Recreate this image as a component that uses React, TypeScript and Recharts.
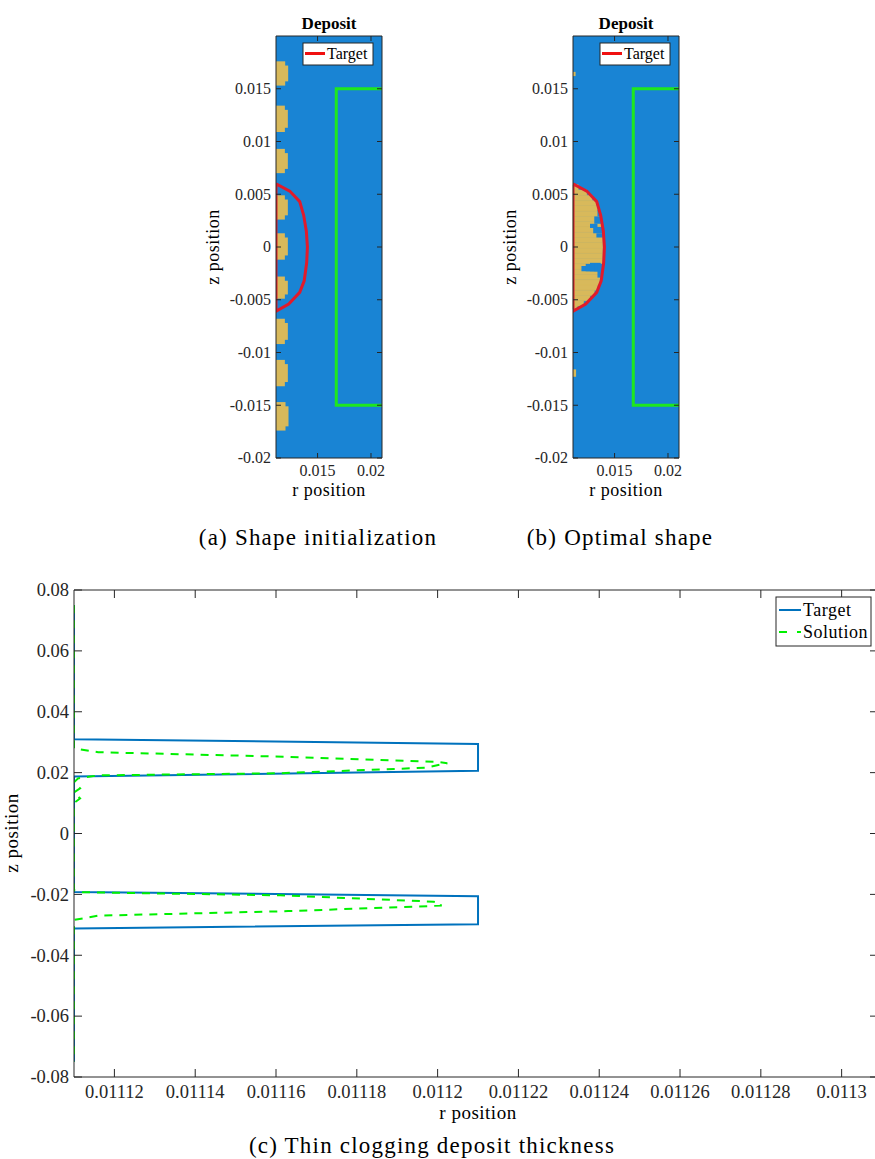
import React from 'react';
import { ComposedChart, Line, XAxis, YAxis, CartesianGrid, ReferenceArea } from 'recharts';

const FONT = '"Liberation Serif", "Times New Roman", serif';
const AXIS = '#262626';
const BLUE_BG = '#1984d4';
const DEPOSIT = '#d8b95b';
const RED = '#e01b2b';
const GREEN_WALL = '#1ee81e';
const TARGET_BLUE = '#0072bd';
const SOL_GREEN = '#00f000';

// ---------- panels (a) and (b) ----------
const panelRDomain: [number, number] = [0.01111, 0.02103];
const panelZDomain: [number, number] = [-0.02, 0.02];
const panelRTicks = [0.015, 0.02];
const panelZTicks = [-0.02, -0.015, -0.01, -0.005, 0, 0.005, 0.01, 0.015];

const shapeTargetR = [0.01111, 0.0124, 0.01333, 0.0137, 0.01395, 0.01405, 0.01398, 0.01375, 0.01333, 0.0123, 0.01111, 0.01111];
const shapeTargetZ = [0.006, 0.0053, 0.0043, 0.003, 0.0015, 0.0, -0.0015, -0.0032, -0.0043, -0.0054, -0.0061, 0.006];

const wallR = [0.02103, 0.01675, 0.01675, 0.02103];
const wallZ = [0.015, 0.015, -0.015, -0.015];

// (a) initial deposit blobs
const initBlobTop = [0.0176, 0.0134, 0.0093, 0.0049, 0.0013, -0.0028, -0.0068, -0.0107, -0.0147];
const initBlobBottom = [0.0153, 0.0109, 0.007, 0.0026, -0.0012, -0.0049, -0.0092, -0.0132, -0.0174];
const initBlobR = [0.01225, 0.01222, 0.01222, 0.01222, 0.01222, 0.01222, 0.01222, 0.01222, 0.01228];

// (b) optimal deposit, horizontal mesh slices
const optSliceZ = [0.0059, 0.0054, 0.0049, 0.0044, 0.0039, 0.0034, 0.0029, 0.0024, 0.0019, 0.0014, 0.0009, 0.0004, -0.0001, -0.0006, -0.0011, -0.0016, -0.0021, -0.0026, -0.0031, -0.0036, -0.0041, -0.0046, -0.0051, -0.0056, -0.0059];
const optSliceR = [0.0116, 0.0124, 0.0129, 0.0133, 0.0134, 0.0136, 0.0137, 0.0138, 0.0138, 0.0139, 0.0139, 0.0139, 0.0139, 0.0139, 0.0139, 0.0138, 0.0138, 0.0137, 0.0136, 0.0134, 0.0131, 0.0127, 0.0121, 0.0115];
// blue gaps inside the optimal deposit
const optHoleR1 = [0.0134, 0.0131, 0.0127, 0.013, 0.0133, 0.0119, 0.0123, 0.0127, 0.0131, 0.0134];
const optHoleR2 = [0.0137, 0.0139, 0.0134, 0.0139, 0.0139, 0.0137, 0.0137, 0.0137, 0.0137, 0.014];
const optHoleTop = [0.0035, 0.0029, 0.0022, 0.0019, 0.0013, -0.0018, -0.0016, -0.0015, -0.0016, -0.0016];
const optHoleBottom = [0.0029, 0.0022, 0.0018, 0.0013, 0.0009, -0.0023, -0.0023, -0.0023, -0.0023, -0.0029];
const optSpeckR2 = [0.01135, 0.0114];
const optSpeckTop = [0.0166, -0.0116];
const optSpeckBottom = [0.0162, -0.0123];

// ---------- panel (c) ----------
const thinRDomain: [number, number] = [0.01111, 0.011309];
const thinZDomain: [number, number] = [-0.08, 0.08];
const thinRTicks = [0.01112, 0.01114, 0.01116, 0.01118, 0.0112, 0.01122, 0.01124, 0.01126, 0.01128, 0.0113];
const thinZTicks = [-0.08, -0.06, -0.04, -0.02, 0, 0.02, 0.04, 0.06, 0.08];

const targetR = [0.01111, 0.01111, 0.01121, 0.01121, 0.01111, 0.01111, 0.01121, 0.01121, 0.01111, 0.01111];
const targetZ = [0.075, 0.031, 0.0294, 0.0206, 0.0187, -0.0192, -0.0206, -0.0298, -0.0312, -0.075];

const solutionR = [0.01111, 0.01111, 0.011116, 0.011163, 0.0112, 0.0112024, 0.011197, 0.011161, 0.011116, 0.011111, 0.01111, 0.0111115, 0.01111, 0.0111115, 0.01111, 0.01111, 0.011112, 0.011161, 0.011199, 0.0112008, 0.0112008, 0.011163, 0.011116, 0.01111, 0.01111];
const solutionZ = [0.075, 0.028, 0.0267, 0.0252, 0.0235, 0.0231, 0.0216, 0.0198, 0.0191, 0.0181, 0.0168, 0.0148, 0.0135, 0.0115, 0.01, -0.0186, -0.0193, -0.0203, -0.0224, -0.023, -0.0237, -0.0255, -0.027, -0.0284, -0.075];

const zip = (r: number[], z: number[]) => r.map((v, i) => ({ r: v, z: z[i] }));

const fmt = (v: number) => String(Number(v.toFixed(6)));

function tickRenderer(side: string, len: number, fs: number, showLabel: boolean, labelOffset: number) {
  return (p: any) => {
    const { x, y, payload } = p;
    const v = payload ? payload.value : 0;
    let ln: any = null;
    let tx: any = null;
    if (side === 'bottom') {
      ln = <line x1={x} y1={y} x2={x} y2={y - len} stroke={AXIS} strokeWidth={1} />;
      if (showLabel)
        tx = (
          <text x={x} y={y + labelOffset} textAnchor="middle" fontSize={fs} fontFamily={FONT} fill={AXIS}>
            {fmt(v)}
          </text>
        );
    } else if (side === 'top') {
      ln = <line x1={x} y1={y} x2={x} y2={y + len} stroke={AXIS} strokeWidth={1} />;
    } else if (side === 'left') {
      ln = <line x1={x} y1={y} x2={x + len} y2={y} stroke={AXIS} strokeWidth={1} />;
      if (showLabel)
        tx = (
          <text x={x - labelOffset} y={y + fs * 0.34} textAnchor="end" fontSize={fs} fontFamily={FONT} fill={AXIS}>
            {fmt(v)}
          </text>
        );
    } else {
      ln = <line x1={x} y1={y} x2={x - len} y2={y} stroke={AXIS} strokeWidth={1} />;
    }
    return (
      <g>
        {ln}
        {tx}
      </g>
    );
  };
}

function TopPanel({ left, mode }: { left: number; mode: 'init' | 'opt' }) {
  const areas: any[] = [];
  if (mode === 'init') {
    initBlobTop.forEach((top, i) => {
      const bot = initBlobBottom[i];
      const rr = initBlobR[i];
      areas.push(
        <ReferenceArea key={'bc' + i} x1={panelRDomain[0]} x2={rr - 0.00028} y1={bot} y2={top} fill={DEPOSIT} fillOpacity={1} stroke="none" ifOverflow="visible" />
      );
      areas.push(
        <ReferenceArea key={'bm' + i} x1={panelRDomain[0]} x2={rr} y1={bot + 0.0004} y2={top - 0.0004} fill={DEPOSIT} fillOpacity={1} stroke="none" ifOverflow="visible" />
      );
    });
  } else {
    optSliceR.forEach((rr, i) => {
      areas.push(
        <ReferenceArea key={'s' + i} x1={panelRDomain[0]} x2={rr} y1={optSliceZ[i + 1]} y2={optSliceZ[i]} fill={DEPOSIT} fillOpacity={1} stroke={DEPOSIT} strokeWidth={0.6} ifOverflow="visible" />
      );
    });
    optHoleR1.forEach((r1, i) => {
      areas.push(
        <ReferenceArea key={'h' + i} x1={r1} x2={optHoleR2[i]} y1={optHoleBottom[i]} y2={optHoleTop[i]} fill={BLUE_BG} fillOpacity={1} stroke="none" ifOverflow="visible" />
      );
    });
    optSpeckR2.forEach((r2, i) => {
      areas.push(
        <ReferenceArea key={'k' + i} x1={panelRDomain[0]} x2={r2} y1={optSpeckBottom[i]} y2={optSpeckTop[i]} fill={DEPOSIT} fillOpacity={1} stroke="none" ifOverflow="visible" />
      );
    });
  }
  return (
    <div style={{ position: 'absolute', left, top: 0 }}>
      <ComposedChart width={200} height={480} margin={{ top: 35, right: 17, bottom: 0, left: 0 }}>
        <CartesianGrid horizontal={false} vertical={false} fill={BLUE_BG} fillOpacity={1} stroke="none" />
        <XAxis
          type="number"
          dataKey="r"
          domain={panelRDomain}
          ticks={panelRTicks}
          interval={0}
          allowDataOverflow
          height={22}
          tickSize={0}
          tickMargin={0}
          tickLine={false}
          axisLine={{ stroke: AXIS, strokeWidth: 1 }}
          tick={tickRenderer('bottom', 5, 16, true, 18.4)}
        />
        <XAxis
          xAxisId="t"
          orientation="top"
          type="number"
          dataKey="r"
          domain={panelRDomain}
          ticks={panelRTicks}
          interval={0}
          allowDataOverflow
          height={1}
          tickSize={0}
          tickMargin={0}
          tickLine={false}
          axisLine={{ stroke: AXIS, strokeWidth: 1 }}
          tick={tickRenderer('top', 5, 16, false, 0)}
        />
        <YAxis
          type="number"
          domain={panelZDomain}
          ticks={panelZTicks}
          interval={0}
          allowDataOverflow
          width={76}
          tickSize={0}
          tickMargin={0}
          tickLine={false}
          axisLine={{ stroke: AXIS, strokeWidth: 1 }}
          tick={tickRenderer('left', 5, 16, true, 5)}
        />
        <YAxis
          yAxisId="r"
          orientation="right"
          type="number"
          domain={panelZDomain}
          ticks={panelZTicks}
          interval={0}
          allowDataOverflow
          width={1}
          tickSize={0}
          tickMargin={0}
          tickLine={false}
          axisLine={{ stroke: AXIS, strokeWidth: 1 }}
          tick={tickRenderer('right', 5, 16, false, 0)}
        />
        {areas}
        <Line data={zip(wallR, wallZ)} dataKey="z" stroke={GREEN_WALL} strokeWidth={3} dot={false} activeDot={false} isAnimationActive={false} type="linear" />
        <Line data={zip(shapeTargetR, shapeTargetZ)} dataKey="z" stroke={RED} strokeWidth={3} dot={false} activeDot={false} isAnimationActive={false} type="linear" />
      </ComposedChart>
    </div>
  );
}

function ThinPanel() {
  return (
    <div style={{ position: 'absolute', left: 0, top: 560 }}>
      <ComposedChart width={900} height={560} margin={{ top: 29, right: 21, bottom: 0, left: 0 }}>
        <XAxis
          type="number"
          dataKey="r"
          domain={thinRDomain}
          ticks={thinRTicks}
          interval={0}
          allowDataOverflow
          height={43}
          tickSize={0}
          tickMargin={0}
          tickLine={false}
          axisLine={{ stroke: AXIS, strokeWidth: 1 }}
          tick={tickRenderer('bottom', 8, 18.5, true, 21)}
        />
        <XAxis
          xAxisId="t"
          orientation="top"
          type="number"
          dataKey="r"
          domain={thinRDomain}
          ticks={thinRTicks}
          interval={0}
          allowDataOverflow
          height={1}
          tickSize={0}
          tickMargin={0}
          tickLine={false}
          axisLine={{ stroke: AXIS, strokeWidth: 1 }}
          tick={tickRenderer('top', 8, 18.5, false, 0)}
        />
        <YAxis
          type="number"
          domain={thinZDomain}
          ticks={thinZTicks}
          interval={0}
          allowDataOverflow
          width={74}
          tickSize={0}
          tickMargin={0}
          tickLine={false}
          axisLine={{ stroke: AXIS, strokeWidth: 1 }}
          tick={tickRenderer('left', 8, 18.5, true, 5)}
        />
        <YAxis
          yAxisId="r"
          orientation="right"
          type="number"
          domain={thinZDomain}
          ticks={thinZTicks}
          interval={0}
          allowDataOverflow
          width={1}
          tickSize={0}
          tickMargin={0}
          tickLine={false}
          axisLine={{ stroke: AXIS, strokeWidth: 1 }}
          tick={tickRenderer('right', 8, 18.5, false, 0)}
        />
        <Line data={zip(targetR, targetZ)} dataKey="z" stroke={TARGET_BLUE} strokeWidth={2} dot={false} activeDot={false} isAnimationActive={false} type="linear" />
        <Line data={zip(solutionR, solutionZ)} dataKey="z" stroke={SOL_GREEN} strokeWidth={2} strokeDasharray="8 7" dot={false} activeDot={false} isAnimationActive={false} type="linear" />
      </ComposedChart>
    </div>
  );
}

const txt = { fontFamily: FONT, fill: '#000' } as const;

function Overlay() {
  const bShift = 297;
  return (
    <svg width={875} height={1159} style={{ position: 'absolute', left: 0, top: 0, pointerEvents: 'none' }}>
      {/* titles */}
      <text x={329} y={29} textAnchor="middle" fontSize={17} fontWeight="bold" {...txt}>Deposit</text>
      <text x={329 + bShift} y={29} textAnchor="middle" fontSize={17} fontWeight="bold" {...txt}>Deposit</text>
      {/* axis labels top panels */}
      <text transform="translate(219,247) rotate(-90)" textAnchor="middle" fontSize={18} style={{ letterSpacing: '0.5px' }} {...txt}>z position</text>
      <text transform={`translate(${219 + bShift},247) rotate(-90)`} textAnchor="middle" fontSize={18} style={{ letterSpacing: '0.5px' }} {...txt}>z position</text>
      <text x={329} y={496} textAnchor="middle" fontSize={18} style={{ letterSpacing: '0.5px' }} {...txt}>r position</text>
      <text x={329 + bShift} y={496} textAnchor="middle" fontSize={18} style={{ letterSpacing: '0.5px' }} {...txt}>r position</text>
      {/* legends top */}
      {[0, bShift].map((s) => (
        <g key={s}>
          <rect x={303 + s} y={43} width={70} height={22} fill="#fff" stroke={AXIS} strokeWidth={1} />
          <line x1={305 + s} x2={325 + s} y1={53.5} y2={53.5} stroke="#f01010" strokeWidth={3} />
          <text x={327 + s} y={59} fontSize={16} {...txt}>Target</text>
        </g>
      ))}
      {/* captions */}
      <text x={318} y={545} textAnchor="middle" fontSize={23} style={{ letterSpacing: '1.2px' }} {...txt}>(a) Shape initialization</text>
      <text x={620} y={545} textAnchor="middle" fontSize={23} style={{ letterSpacing: '1.2px' }} {...txt}>(b) Optimal shape</text>
      {/* bottom axis labels */}
      <text transform="translate(18,833) rotate(-90)" textAnchor="middle" fontSize={19} style={{ letterSpacing: '0.5px' }} {...txt}>z position</text>
      <text x={478} y={1119} textAnchor="middle" fontSize={19} style={{ letterSpacing: '0.5px' }} {...txt}>r position</text>
      <text x={432} y={1153} textAnchor="middle" fontSize={23} style={{ letterSpacing: '1.2px' }} {...txt}>(c) Thin clogging deposit thickness</text>
      {/* bottom legend */}
      <rect x={776} y={597} width={95} height={49} fill="#fff" stroke={AXIS} strokeWidth={1} />
      <line x1={779} x2={801} y1={610} y2={610} stroke={TARGET_BLUE} strokeWidth={2} />
      <text x={803} y={616} fontSize={18} style={{ letterSpacing: '0.5px' }} {...txt}>Target</text>
      <line x1={779} x2={801} y1={632} y2={632} stroke={SOL_GREEN} strokeWidth={2} strokeDasharray="8 10" />
      <text x={803} y={638} fontSize={18} style={{ letterSpacing: '0.5px' }} {...txt}>Solution</text>
    </svg>
  );
}

export default function App() {
  return (
    <div style={{ position: 'absolute', left: 0, top: 0, width: 875, height: 1159, overflow: 'hidden', background: '#fff' }}>
      <TopPanel left={200} mode="init" />
      <TopPanel left={497} mode="opt" />
      <ThinPanel />
      <Overlay />
    </div>
  );
}
